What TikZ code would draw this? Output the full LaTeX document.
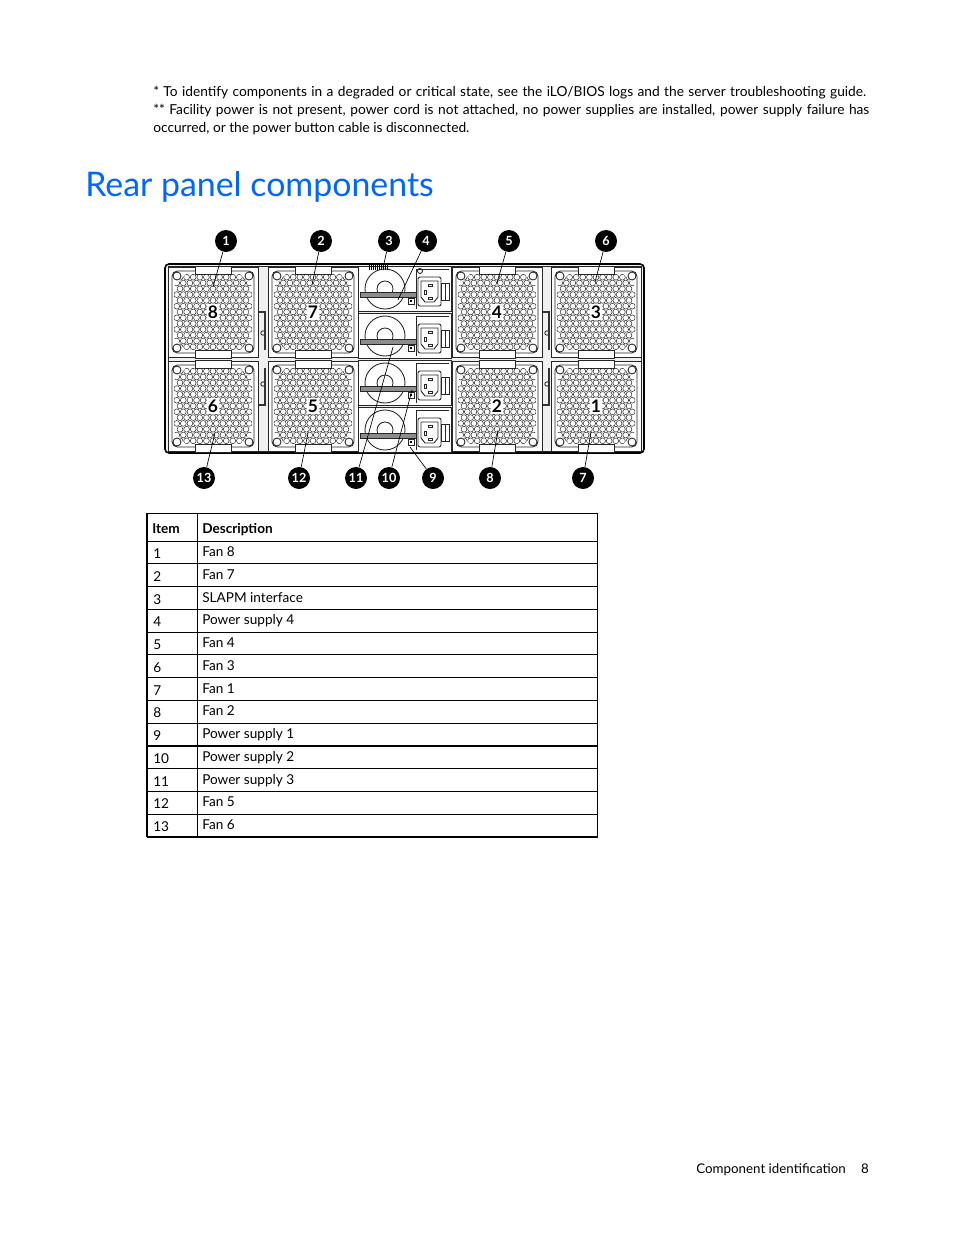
\documentclass[tikz,border=0pt]{standalone}
\usepackage{fontspec}
\setmainfont{Lato}
\definecolor{hpblue}{RGB}{0,102,255}
\tikzset{
  callout/.style={circle,fill=black,text=white,inner sep=0pt,minimum size=16.5pt,font=\bfseries\fontsize{9.5}{9.5}\selectfont},
  leader/.style={black,line width=0.5pt},
  fannum/.style={fill=white,inner sep=1pt,font=\bfseries\fontsize{13}{13}\selectfont},
  hole/.style={draw=black!80,line width=0.4pt},
  part/.style={draw=black!85,line width=0.65pt},
  note/.style={anchor=base west,inner sep=0pt,font=\fontsize{10.3}{11}\selectfont},
  cell/.style={anchor=base west,inner sep=0pt,font=\fontsize{10.2}{11}\selectfont},
}
\begin{document}
\begin{tikzpicture}[x=0.75pt,y=-0.75pt]
\useasboundingbox (0,0) rectangle (954,1235);

\node[note] (n1) at (153,96) {\makebox[534.75pt][s]{* To identify components in a degraded or critical state, see the iLO/BIOS logs and the server troubleshooting guide.}};
\node[note] (n2) at (153,114) {\makebox[537pt][s]{** Facility power is not present, power cord is not attached, no power supplies are installed, power supply failure has}};
\node[note] (n3) at (153,132) {occurred, or the power button cable is disconnected.};
\node[anchor=base west,inner sep=0pt,text=hpblue,font=\fontsize{25.4}{25}\selectfont] (title) at (85,196) {Rear panel components};

\draw[line width=1.2pt,fill=black!6,rounded corners=3pt] (165,264) rectangle (644,453);
\draw[part] (168,266) rectangle (641,451);
\foreach \sx in {258,542}{
  \foreach \sy in {333,384} \draw[part] (\sx+5,\sy) circle (2.2);
  \draw[line width=0.9pt,black!80] (\sx,290) -- (\sx,312) -- (\sx+7,312) -- (\sx+7,350);
  \draw[line width=0.9pt,black!80] (\sx+7,368) -- (\sx+7,405) -- (\sx,405) -- (\sx,430);
}
\foreach \cx/\cy/\lab in {213/312/8,313/312/7,497/312/4,596/312/3,213/406/6,313/406/5,497/406/2,596/406/1}{
  \begin{scope}[shift={(\cx,\cy)}]
    \draw[part,fill=white] (-45,-45) rectangle (45,45);
    \draw[part,rounded corners=4pt] (-41,-41) rectangle (41,41);
    \begin{scope}
      \clip (-26,-39) -- (26,-39) -- (39,-26) -- (39,26) -- (26,39) -- (-26,39) -- (-39,26) -- (-39,-26) -- cycle;
      \foreach \j in {-6,-4,...,6} \foreach \i in {-5,...,5} \draw[hole] (\i*6.6,\j*5.8) circle (2.9);
      \foreach \j in {-5,-3,...,5} \foreach \i in {-5.5,-4.5,...,5.5} \draw[hole] (\i*6.6,\j*5.8) circle (2.9);
    \end{scope}
    \foreach \sx in {-1,1} \foreach \sy in {-1,1} \draw[part] (\sx*36,\sy*36) circle (4);
    \draw[part,fill=white] (-18,-46) rectangle (18,-38);
    \draw[part,fill=white] (-18,38) rectangle (18,46);
    \node[fannum] (fan\lab) at (0,0) {\lab};
  \end{scope}
}
\foreach \t in {265,312,359,406}{
  \begin{scope}[shift={(357,\t)}]
    \draw[part,fill=white] (1,1) rectangle (94,46);
    \draw[part] (28,24) circle (20);
    \draw[part] (28,24) circle (8);
    \draw[part,fill=black!45] (3,27) rectangle (59,32);
    \draw[part] (51,33) rectangle (57,39);
    \fill (53,35) rectangle (55,37);
    \draw[part] (59,4) -- (59,44) (59,4) -- (92,4);
    \draw[part,rounded corners=1.5pt] (61,12) rectangle (84,41);
    \draw[part] (64,16) -- (81,16) -- (81,32) -- (77,37) -- (68,37) -- (64,32) -- cycle;
    \draw[part] (71,19) rectangle (75,21);
    \draw[part] (67,25) rectangle (69,29);
    \draw[part] (71,32) rectangle (75,34);
    \draw[part] (84,18) rectangle (92,35);
    \draw[part] (88,18) -- (88,35);
  \end{scope}
}
\foreach \k in {0,...,9} \draw[line width=0.4pt] (369+\k*2,265) -- (369+\k*2,269.5);
\draw[part] (420,271) circle (2.5);

\foreach \n/\x/\y/\ex/\ey in {1/226/241/213/287, 2/321/241/312/285, 3/389/241/383/268, 4/426/241/398/300,
    5/509/241/497/283, 6/606/241/595/282, 7/583/478/591/432, 8/490/478/498/430, 9/433/478/410/447,
    10/389/478/412/390, 11/356/478/393/347, 12/299/478/308/433, 13/204/478/215/433}{
  \node[callout] (c\n) at (\x,\y) {\n};
  \coordinate (e\n) at (\ex,\ey);
  \draw[leader] (c\n) -- (e\n);
}

\draw[line width=0.75pt] (147,513) rectangle (597,837);
\draw[line width=1.5pt] (147,513) -- (147,837);
\draw[line width=0.75pt] (197,513) -- (197,837) (147,541) -- (597,541);
\node[cell,font=\bfseries\fontsize{10.2}{11}\selectfont] (hitem) at (152,533) {Item};
\node[cell,font=\bfseries\fontsize{10.2}{11}\selectfont] (hdesc) at (202,533) {Description};
\foreach \itm/\txt [count=\k] in {1/Fan 8, 2/Fan 7, 3/SLAPM interface, 4/Power supply 4, 5/Fan 4, 6/Fan 3,
    7/Fan 1, 8/Fan 2, 9/Power supply 1, 10/Power supply 2, 11/Power supply 3, 12/Fan 5, 13/Fan 6}{
  \node[cell] (i\k) at (153,541+\k*22.75-5.25) {\itm};
  \node[cell] (d\k) at (202,541+\k*22.75-7.25) {\txt};
  \draw[line width=0.75pt] (147,541+\k*22.75) -- (597,541+\k*22.75);
}
\draw[line width=1.5pt] (147,745.75) -- (597,745.75);

\node[anchor=base east,inner sep=0pt,font=\fontsize{10}{11}\selectfont] (foot) at (846,1173) {Component identification};
\node[anchor=base east,inner sep=0pt,font=\fontsize{10}{11}\selectfont] (page) at (869,1173) {8};
\end{tikzpicture}
\end{document}
